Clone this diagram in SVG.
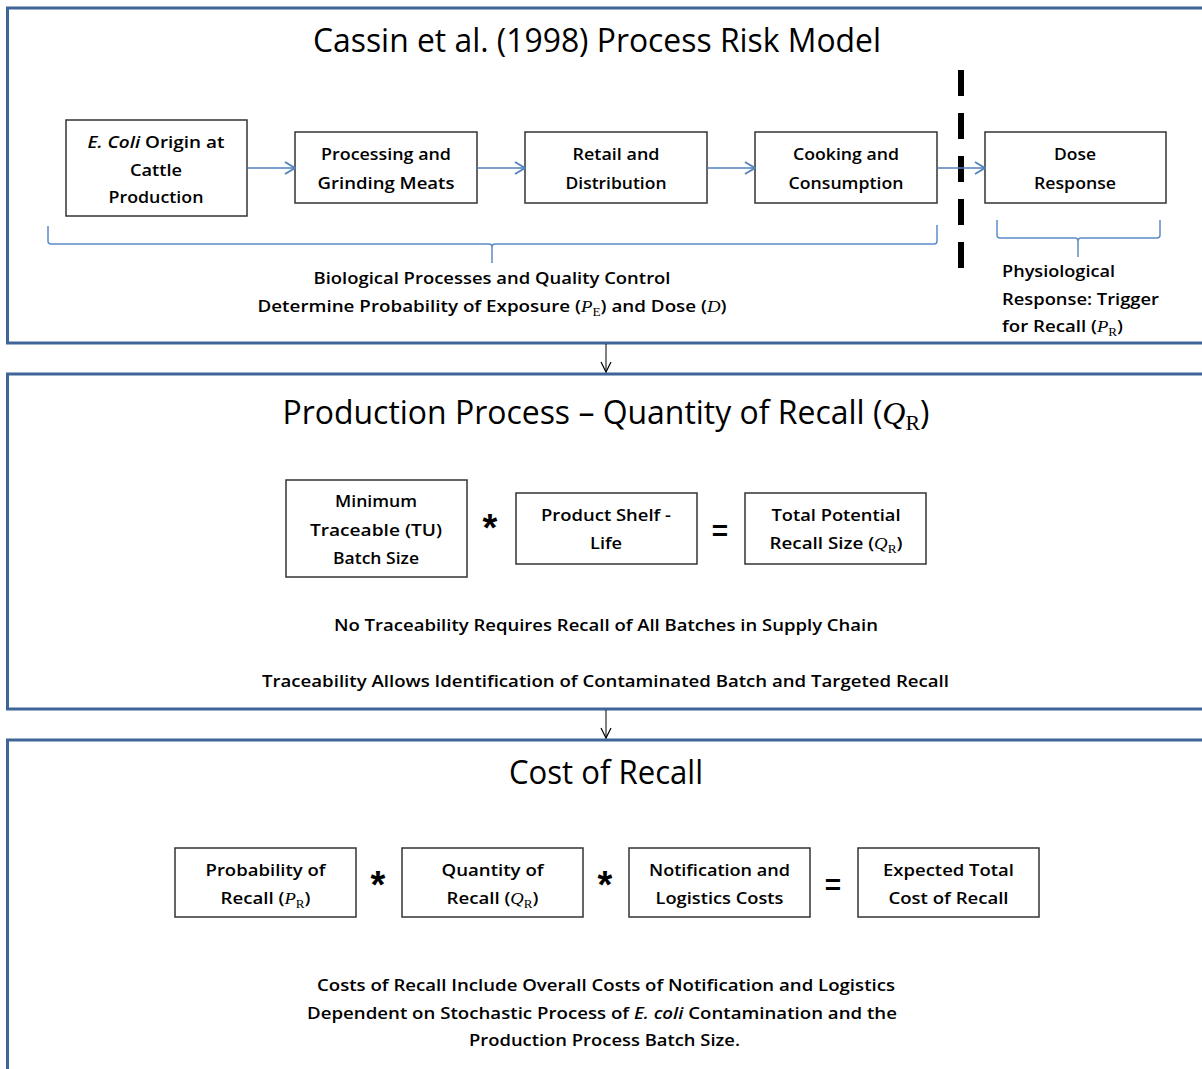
<svg xmlns="http://www.w3.org/2000/svg" width="1202" height="1069" viewBox="0 0 1202 1069">
  <defs>
    <style>
      .frame { fill: none; stroke: #3f6497; stroke-width: 3; }
      .box { fill: #ffffff; stroke: #333333; stroke-width: 1.5; }
      .flow { fill: none; stroke: #4f81bd; stroke-width: 1.5; }
      .brace { fill: none; stroke: #5b8cc8; stroke-width: 1.5; }
      .down { fill: none; stroke: #000000; stroke-width: 1; }
      .title { font-family: "Open Sans", "Liberation Sans", sans-serif; font-size: 32px; font-weight: 500; fill: #000; text-anchor: middle; }
      .lbl { font-family: "Open Sans", "Liberation Sans", sans-serif; font-size: 17px; font-weight: 600; fill: #000; text-anchor: middle; }
      .lbl-l { font-family: "Open Sans", "Liberation Sans", sans-serif; font-size: 17px; font-weight: 600; fill: #000; }
      .op { font-family: "Liberation Sans", sans-serif; font-weight: bold; fill: #000; text-anchor: middle; }
      .mv { font-family: "Liberation Serif", serif; font-style: italic; font-weight: normal; }
      .ms { font-family: "Liberation Serif", serif; font-style: normal; font-weight: normal; }
      .it { font-style: italic; }
    </style>
    <marker id="chev" viewBox="0 0 12 14" refX="11" refY="7" markerWidth="12" markerHeight="14" markerUnits="userSpaceOnUse" orient="auto">
      <path d="M1,1 L11,7 L1,13" fill="none" stroke="#4f81bd" stroke-width="1.8"/>
    </marker>
    <marker id="vhead" viewBox="0 0 12 12" refX="11" refY="6" markerWidth="12" markerHeight="12" markerUnits="userSpaceOnUse" orient="auto">
      <path d="M1,1 L11,6 L1,11" fill="none" stroke="#000" stroke-width="1.2"/>
    </marker>
  </defs>

  <rect width="1202" height="1069" fill="#ffffff"/>

  <!-- section frames (open on the right) -->
  <g id="frames">
    <path class="frame" d="M1210,8 H7.5 V343 H1210"/>
    <path class="frame" d="M1210,374 H7.5 V709 H1210"/>
    <path class="frame" d="M1210,740 H7.5 V1075"/>
  </g>

  <!-- section 1: process risk model -->
  <text class="title" x="597" y="52" textLength="568" lengthAdjust="spacingAndGlyphs">Cassin et al. (1998) Process Risk Model</text>

  <g id="n-origin">
    <rect class="box" x="66" y="120" width="181" height="96"/>
    <text class="lbl" x="156" y="148" textLength="137" lengthAdjust="spacingAndGlyphs"><tspan class="it">E. Coli</tspan> Origin at</text>
    <text class="lbl" x="156" y="176" textLength="52" lengthAdjust="spacingAndGlyphs">Cattle</text>
    <text class="lbl" x="156" y="203" textLength="95" lengthAdjust="spacingAndGlyphs">Production</text>
  </g>
  <g id="n-processing">
    <rect class="box" x="295" y="132" width="182" height="71"/>
    <text class="lbl" x="386" y="160" textLength="130" lengthAdjust="spacingAndGlyphs">Processing and</text>
    <text class="lbl" x="386" y="189" textLength="137" lengthAdjust="spacingAndGlyphs">Grinding Meats</text>
  </g>
  <g id="n-retail">
    <rect class="box" x="525" y="132" width="182" height="71"/>
    <text class="lbl" x="616" y="160" textLength="87" lengthAdjust="spacingAndGlyphs">Retail and</text>
    <text class="lbl" x="616" y="189" textLength="101" lengthAdjust="spacingAndGlyphs">Distribution</text>
  </g>
  <g id="n-cooking">
    <rect class="box" x="755" y="132" width="182" height="71"/>
    <text class="lbl" x="846" y="160" textLength="106" lengthAdjust="spacingAndGlyphs">Cooking and</text>
    <text class="lbl" x="846" y="189" textLength="115" lengthAdjust="spacingAndGlyphs">Consumption</text>
  </g>
  <g id="n-dose">
    <rect class="box" x="985" y="132" width="181" height="71"/>
    <text class="lbl" x="1075" y="160" textLength="42" lengthAdjust="spacingAndGlyphs">Dose</text>
    <text class="lbl" x="1075" y="189" textLength="82" lengthAdjust="spacingAndGlyphs">Response</text>
  </g>

  <!-- exposure / response divider -->
  <line x1="961" y1="70" x2="961" y2="269" stroke="#000" stroke-width="6" stroke-dasharray="26 17"/>

  <g id="connectors">
    <line class="flow" x1="247" y1="168" x2="295" y2="168" marker-end="url(#chev)"/>
    <line class="flow" x1="477" y1="168" x2="525" y2="168" marker-end="url(#chev)"/>
    <line class="flow" x1="707" y1="168" x2="755" y2="168" marker-end="url(#chev)"/>
    <line class="flow" x1="937" y1="168" x2="985" y2="168" marker-end="url(#chev)"/>
    <line class="down" x1="606" y1="344" x2="606" y2="372" marker-end="url(#vhead)"/>
    <line class="down" x1="606" y1="710" x2="606" y2="738" marker-end="url(#vhead)"/>
  </g>

  <!-- braces -->
  <g id="braces">
    <path class="brace" d="M48,226 V241 Q48,244 51,244 H489 Q492,244 492,247 V263 M492,247 Q492,244 495,244 H934 Q937,244 937,241 V225"/>
    <path class="brace" d="M997,220 V235 Q997,238 1000,238 H1075 Q1078,238 1078,241 V257 M1078,241 Q1078,238 1081,238 H1157 Q1160,238 1160,235 V220"/>
  </g>

  <g id="t-biological">
    <text class="lbl" x="492" y="284" textLength="357" lengthAdjust="spacingAndGlyphs">Biological Processes and Quality Control</text>
    <text class="lbl" x="492" y="312" textLength="469" lengthAdjust="spacingAndGlyphs">Determine Probability of Exposure (<tspan class="mv">P</tspan><tspan class="ms" font-size="12" dy="4">E</tspan><tspan dy="-4">) and Dose (</tspan><tspan class="mv">D</tspan>)</text>
  </g>
  <g id="t-physiological">
    <text class="lbl-l" x="1002" y="277" textLength="113" lengthAdjust="spacingAndGlyphs">Physiological</text>
    <text class="lbl-l" x="1002" y="305" textLength="157" lengthAdjust="spacingAndGlyphs">Response: Trigger</text>
    <text class="lbl-l" x="1002" y="332" textLength="121" lengthAdjust="spacingAndGlyphs">for Recall (<tspan class="mv">P</tspan><tspan class="ms" font-size="12" dy="4">R</tspan><tspan dy="-4">)</tspan></text>
  </g>

  <!-- section 2: production process -->
  <text class="title" x="606" y="424" textLength="647" lengthAdjust="spacingAndGlyphs">Production Process – Quantity of Recall (<tspan class="mv">Q</tspan><tspan class="ms" font-size="22" dy="6">R</tspan><tspan dy="-6">)</tspan></text>

  <g id="n-batch">
    <rect class="box" x="286" y="480" width="181" height="97"/>
    <text class="lbl" x="376" y="507" textLength="82" lengthAdjust="spacingAndGlyphs">Minimum</text>
    <text class="lbl" x="376" y="536" textLength="132" lengthAdjust="spacingAndGlyphs">Traceable (TU)</text>
    <text class="lbl" x="376" y="564" textLength="86" lengthAdjust="spacingAndGlyphs">Batch Size</text>
  </g>
  <text class="op" x="490" y="541" font-size="38">*</text>
  <g id="n-shelf">
    <rect class="box" x="516" y="493" width="181" height="71"/>
    <text class="lbl" x="606" y="521" textLength="130" lengthAdjust="spacingAndGlyphs">Product Shelf -</text>
    <text class="lbl" x="606" y="549" textLength="32" lengthAdjust="spacingAndGlyphs">Life</text>
  </g>
  <text class="op" x="720" y="540" font-size="28">=</text>
  <g id="n-recall-size">
    <rect class="box" x="745" y="493" width="181" height="71"/>
    <text class="lbl" x="836" y="521" textLength="129" lengthAdjust="spacingAndGlyphs">Total Potential</text>
    <text class="lbl" x="836" y="549" textLength="133" lengthAdjust="spacingAndGlyphs">Recall Size (<tspan class="mv">Q</tspan><tspan class="ms" font-size="12" dy="4">R</tspan><tspan dy="-4">)</tspan></text>
  </g>

  <g id="t-traceability">
    <text class="lbl" x="606" y="631" textLength="544" lengthAdjust="spacingAndGlyphs">No Traceability Requires Recall of All Batches in Supply Chain</text>
    <text class="lbl" x="605.5" y="687" textLength="687" lengthAdjust="spacingAndGlyphs">Traceability Allows Identification of Contaminated Batch and Targeted Recall</text>
  </g>

  <!-- section 3: cost of recall -->
  <text class="title" x="606" y="784" textLength="194" lengthAdjust="spacingAndGlyphs">Cost of Recall</text>

  <g id="n-prob">
    <rect class="box" x="175" y="848" width="181" height="69"/>
    <text class="lbl" x="265.5" y="876" textLength="120" lengthAdjust="spacingAndGlyphs">Probability of</text>
    <text class="lbl" x="265.5" y="904" textLength="90" lengthAdjust="spacingAndGlyphs">Recall (<tspan class="mv">P</tspan><tspan class="ms" font-size="12" dy="4">R</tspan><tspan dy="-4">)</tspan></text>
  </g>
  <text class="op" x="378" y="898" font-size="38">*</text>
  <g id="n-qty">
    <rect class="box" x="402" y="848" width="181" height="69"/>
    <text class="lbl" x="492.5" y="876" textLength="102" lengthAdjust="spacingAndGlyphs">Quantity of</text>
    <text class="lbl" x="492.5" y="904" textLength="92" lengthAdjust="spacingAndGlyphs">Recall (<tspan class="mv">Q</tspan><tspan class="ms" font-size="12" dy="4">R</tspan><tspan dy="-4">)</tspan></text>
  </g>
  <text class="op" x="605" y="898" font-size="38">*</text>
  <g id="n-notify">
    <rect class="box" x="629" y="848" width="181" height="69"/>
    <text class="lbl" x="719.5" y="876" textLength="141" lengthAdjust="spacingAndGlyphs">Notification and</text>
    <text class="lbl" x="719.5" y="904" textLength="128" lengthAdjust="spacingAndGlyphs">Logistics Costs</text>
  </g>
  <text class="op" x="833" y="894" font-size="28">=</text>
  <g id="n-expected">
    <rect class="box" x="858" y="848" width="181" height="69"/>
    <text class="lbl" x="948.5" y="876" textLength="131" lengthAdjust="spacingAndGlyphs">Expected Total</text>
    <text class="lbl" x="948.5" y="904" textLength="120" lengthAdjust="spacingAndGlyphs">Cost of Recall</text>
  </g>

  <g id="t-costs">
    <text class="lbl" x="606" y="991" textLength="578" lengthAdjust="spacingAndGlyphs">Costs of Recall Include Overall Costs of Notification and Logistics</text>
    <text class="lbl" x="602" y="1019" textLength="590" lengthAdjust="spacingAndGlyphs">Dependent on Stochastic Process of <tspan class="it">E. coli</tspan> Contamination and the</text>
    <text class="lbl" x="604.5" y="1046" textLength="271" lengthAdjust="spacingAndGlyphs">Production Process Batch Size.</text>
  </g>
</svg>
